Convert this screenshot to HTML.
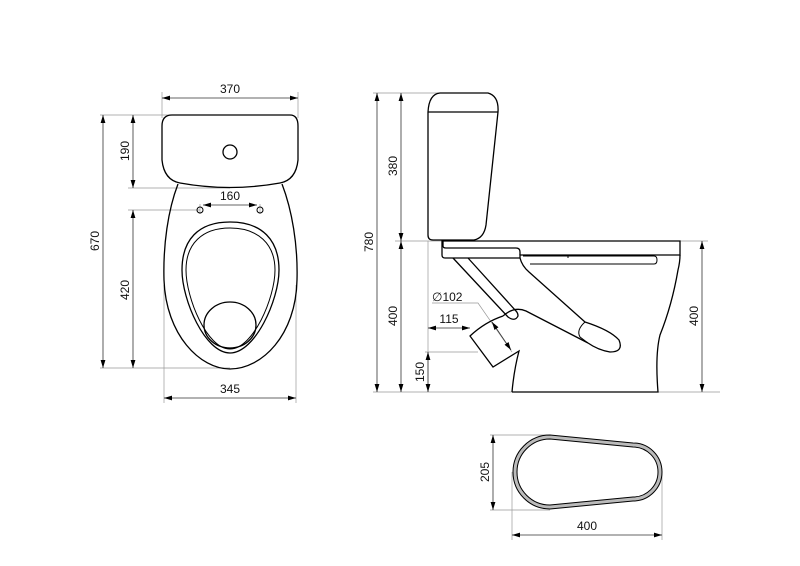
<!DOCTYPE html>
<html><head><meta charset="utf-8"><style>
html,body{margin:0;padding:0;background:#fff;}
svg{display:block;}
text{font-family:"Liberation Sans",sans-serif;font-size:12px;fill:#111;}
.o{fill:none;stroke:#000;stroke-width:1.3;}
.d{fill:none;stroke:#333;stroke-width:0.8;}
.e{fill:none;stroke:#999;stroke-width:0.7;}
</style></head><body>
<svg width="800" height="566" viewBox="0 0 800 566" xmlns="http://www.w3.org/2000/svg">
<defs>
<marker id="a" viewBox="0 0 10 10" refX="10" refY="5" markerWidth="8" markerHeight="8" orient="auto-start-reverse" markerUnits="userSpaceOnUse"><path d="M0,2 L10,5 L0,8 z" fill="#000"/></marker>
</defs>

<!-- ===== LEFT VIEW ===== -->
<path class="e" d="M162,92 V118 M298,92 V118 M100,115 H170 M128,188 H230 M128,210 H200 M100,368 H230 M164,285 V403 M296,285 V403 M200,204 V214 M260,204 V214"/>
<line class="d" x1="162" y1="98" x2="298" y2="98" marker-start="url(#a)" marker-end="url(#a)"/>
<text x="230" y="93" text-anchor="middle">370</text>
<line class="d" x1="133" y1="115" x2="133" y2="188" marker-start="url(#a)" marker-end="url(#a)"/>
<text transform="translate(129,151) rotate(-90)" text-anchor="middle">190</text>
<line class="d" x1="103" y1="115" x2="103" y2="368" marker-start="url(#a)" marker-end="url(#a)"/>
<text transform="translate(99,241) rotate(-90)" text-anchor="middle">670</text>
<line class="d" x1="133" y1="210" x2="133" y2="368" marker-start="url(#a)" marker-end="url(#a)"/>
<text transform="translate(129,290) rotate(-90)" text-anchor="middle">420</text>
<line class="d" x1="203" y1="205" x2="257" y2="205" marker-start="url(#a)" marker-end="url(#a)"/>
<text x="230" y="200" text-anchor="middle">160</text>
<line class="d" x1="164" y1="398" x2="296" y2="398" marker-start="url(#a)" marker-end="url(#a)"/>
<text x="230" y="393" text-anchor="middle">345</text>
<path class="o" d="M172,115 H290 Q298,115 298,126 V160 Q296,180 280,183 Q230,192 180,183 Q164,180 162,160 V126 Q162,115 172,115 Z"/>
<circle class="o" cx="230" cy="152" r="7"/>
<path class="o" d="M178,184 C168,210 163,245 164,280 C166,335 200,369 230,369 C262,369 296,335 297,280 C298,245 292,210 282,184"/>
<circle class="o" cx="200" cy="210" r="3" style="stroke-width:1"/>
<circle class="o" cx="260" cy="210" r="3" style="stroke-width:1"/>
<path class="o" d="M230,222 C262,222 279,240 279,270 C279,300 255,353 230,353 C205,353 182,300 182,270 C182,240 198,222 230,222 Z"/>
<path class="o" style="stroke-width:1" d="M230,228 C258,228 275,244 275,270 C275,298 253,349 230,349 C207,349 186,298 186,270 C186,244 202,228 230,228 Z"/>
<ellipse class="o" cx="230" cy="325" rx="26" ry="23"/>

<!-- ===== SIDE VIEW ===== -->
<path class="e" d="M373,93 H440 M395,241 H442 M680,241 H708 M373,392 H720 M428,241 V392 M425,352 H478 M432,303 H478 L512,352"/>
<line class="d" x1="377" y1="93" x2="377" y2="392" marker-start="url(#a)" marker-end="url(#a)"/>
<text transform="translate(373,242) rotate(-90)" text-anchor="middle">780</text>
<line class="d" x1="401" y1="93" x2="401" y2="241" marker-start="url(#a)" marker-end="url(#a)"/>
<text transform="translate(397,166) rotate(-90)" text-anchor="middle">380</text>
<line class="d" x1="401" y1="241" x2="401" y2="392" marker-start="url(#a)" marker-end="url(#a)"/>
<text transform="translate(397,316) rotate(-90)" text-anchor="middle">400</text>
<line class="d" x1="702" y1="241" x2="702" y2="392" marker-start="url(#a)" marker-end="url(#a)"/>
<text transform="translate(698,316) rotate(-90)" text-anchor="middle">400</text>
<line class="d" x1="428" y1="352" x2="428" y2="392" marker-start="url(#a)" marker-end="url(#a)"/>
<text transform="translate(424,372) rotate(-90)" text-anchor="middle">150</text>
<line class="d" x1="428" y1="328" x2="470" y2="328" marker-start="url(#a)" marker-end="url(#a)"/>
<text x="449" y="323" text-anchor="middle">115</text>
<line class="d" x1="492" y1="322" x2="511" y2="350" marker-start="url(#a)" marker-end="url(#a)"/>
<text x="432" y="301">∅102</text>
<path class="o" d="M428,112 V235 Q428,240 433,240 H474 Q484,238 486,225 L498,112 Q499,96 488,93 H440 Q429,94 428,112 Z"/>
<line class="o" x1="428" y1="112" x2="498" y2="112"/>
<path class="o" d="M442,241 H680 V255 H520 V258 H445 Q442,258 442,255 Z"/>
<path class="o" d="M443,241 V246 Q443,248 446,248 H516 Q520,248 520,252 V255"/>
<path class="o" style="stroke-width:1" d="M523,256 H654 Q657,256 657,260 Q657,264 654,264 H530"/>
<line class="o" style="stroke-width:1" x1="568" y1="255" x2="568" y2="258"/>
<path class="o" d="M453,258 L508,317 Q515,322 518,316 Q518,313 516,311 L468,258"/>
<path class="o" d="M520,258 Q522,266 529,272 L585,322"/>
<path class="o" d="M503,316 Q514,306 526,311 L588,343"/>
<path class="o" d="M585,322 Q610,330 619,340 Q624,352 610,352 Q598,350 588,343"/>
<path class="o" style="stroke-width:1" d="M585,322 Q576,330 580,337 L588,343"/>
<path class="o" d="M503,316 Q485,322 470,336 L493,367 L519,351 Q514,370 512,392"/>
<path class="o" d="M512,392 H658 Q655,355 660,335 Q672,305 678,270 Q680,262 680,255"/>

<!-- ===== BOTTOM VIEW ===== -->
<path class="e" d="M490,435 H550 M490,510 H550 M512,472 V540 M662,472 V540"/>
<line class="d" x1="493" y1="435" x2="493" y2="510" marker-start="url(#a)" marker-end="url(#a)"/>
<text transform="translate(489,472) rotate(-90)" text-anchor="middle">205</text>
<line class="d" x1="512" y1="535" x2="662" y2="535" marker-start="url(#a)" marker-end="url(#a)"/>
<text x="587" y="530" text-anchor="middle">400</text>
<path d="M550,437 L633,445 A27,27 0 0 1 633,499 L550,507 A35,35 0 0 1 550,437 Z" fill="none" stroke="#bbb" stroke-width="4"/>
<path class="o" style="stroke-width:1" d="M550,435 L633,443 A29,29 0 0 1 633,501 L550,509 A37,37 0 0 1 550,435 Z"/>
<path class="o" style="stroke-width:1" d="M550,439 L633,447 A25,25 0 0 1 633,497 L550,505 A33,33 0 0 1 550,439 Z"/>
</svg>
</body></html>
